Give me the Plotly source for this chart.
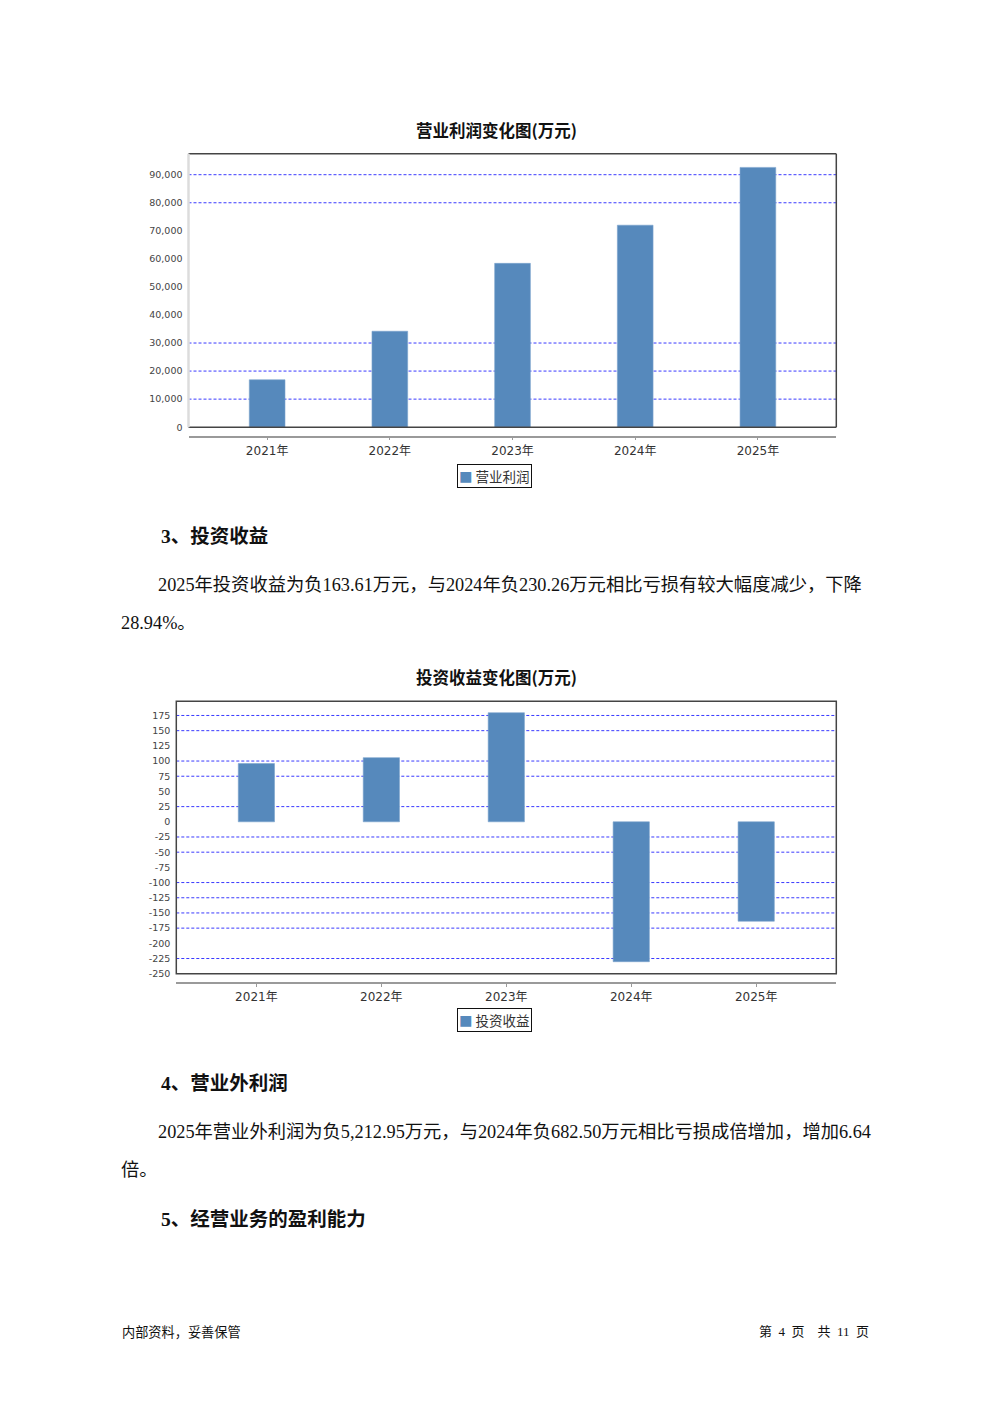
import plotly.graph_objects as go

# ---------------- data ----------------
years = ["2021年", "2022年", "2023年", "2024年", "2025年"]
op_profit = [16900, 34200, 58400, 72000, 92600]          # 营业利润 (万元)
inv_income = [95.8, 105.6, 179.5, -230.26, -163.61]      # 投资收益 (万元)

op_ticks = [0, 10000, 20000, 30000, 40000, 50000, 60000, 70000, 80000, 90000]
op_grid = [10000, 20000, 30000, 80000, 90000]
inv_ticks = [175, 150, 125, 100, 75, 50, 25, 0, -25, -50, -75, -100, -125, -150, -175, -200, -225, -250]
inv_grid = [175, 150, 100, 75, 25, -25, -50, -100, -125, -150, -175, -225, -250]

OFF = 8                      # default body margin of the html page
DY = 2                       # small vertical correction
W, H = 992 - 2 * OFF, 1403 - 2 * OFF
BAR = "#5689bc"
GRID = "#3a3aff"
CJK = "Noto Sans CJK SC"
BODY = "Liberation Serif, Noto Sans CJK SC"
AX = "DejaVu Sans, Noto Sans CJK SC"


def px(x):
    return (x - OFF) / W


def py(y):
    return 1 - (y + DY - OFF) / H


fig = go.Figure()
fig.add_trace(go.Bar(x=years, y=op_profit, name="营业利润", marker=dict(color=BAR, line=dict(color="#7aa3cc", width=0.6)),
                     width=0.291, xaxis="x", yaxis="y", showlegend=False))
fig.add_trace(go.Bar(x=years, y=inv_income, name="投资收益", marker=dict(color=BAR, line=dict(color="#7aa3cc", width=0.6)),
                     width=0.29, xaxis="x2", yaxis="y2", showlegend=False))

ytick_font = dict(family="DejaVu Sans", size=9.5, color="#444")
xtick_font = dict(family=AX, size=12, color="#333")

fig.update_layout(
    width=W, height=H, margin=dict(l=0, r=0, t=0, b=0),
    paper_bgcolor="white", plot_bgcolor="white",
    xaxis=dict(domain=[px(188.5), px(836.3)], range=[-0.641, 4.639], anchor="free", position=py(436.3),
               showline=True, linecolor="#9a9a9a", linewidth=1.5, ticks="outside", ticklen=3, tickcolor="#9a9a9a",
               tickfont=xtick_font, showgrid=False, zeroline=False),
    yaxis=dict(domain=[py(426.7), py(152.3)], range=[0, 97460], anchor="x", tickvals=op_ticks,
               ticktext=[f"{v:,}" for v in op_ticks], tickfont=ytick_font, showgrid=False, zeroline=False,
               showline=False, ticks="", ticklabelstandoff=5),
    xaxis2=dict(domain=[px(176.3), px(836.3)], range=[-0.641, 4.641], anchor="free", position=py(984.5),
                showline=True, linecolor="#9a9a9a", linewidth=1.5, ticks="outside", ticklen=3, tickcolor="#9a9a9a",
                tickfont=xtick_font, showgrid=False, zeroline=False),
    yaxis2=dict(domain=[py(975.2), py(701.7)], range=[-250, 198.5], anchor="x2", tickvals=inv_ticks,
                ticktext=[str(v) for v in inv_ticks], tickfont=ytick_font, showgrid=False, zeroline=False,
                showline=False, ticks="", ticklabelstandoff=5),
    showlegend=False,
)

shapes = []
for g in op_grid:
    shapes.append(dict(type="line", xref="x domain", yref="y", x0=0, x1=1, y0=g, y1=g, layer="below",
                       line=dict(color=GRID, width=1, dash="3px,2px")))
for g in inv_grid:
    shapes.append(dict(type="line", xref="x2 domain", yref="y2", x0=0, x1=1, y0=g, y1=g, layer="below",
                       line=dict(color=GRID, width=1, dash="3px,2px")))
# chart 1 frame: dark top/right/bottom, light left
for (x0, y0, x1, y1, c, w) in [(0, 1, 1, 1, "#444", 1.5), (1, 0, 1, 1, "#444", 1.5), (0, 0, 1, 0, "#444", 1.5),
                               (0, 0, 0, 1, "#dcdcdc", 2.5)]:
    shapes.append(dict(type="line", xref="x domain", yref="y domain", x0=x0, x1=x1, y0=y0, y1=y1,
                       line=dict(color=c, width=w)))
shapes.append(dict(type="rect", xref="x2 domain", yref="y2 domain", x0=0, x1=1, y0=0, y1=1,
                   line=dict(color="#444", width=1.5)))
fig.update_layout(shapes=shapes)

ann = []


def text(x, y, s, size, bold=False, family=BODY, anchor="left", color="#111", **kw):
    ann.append(dict(x=px(x), y=py(y), xref="paper", yref="paper", text=("<b>%s</b>" % s) if bold else s,
                    showarrow=False, xanchor=anchor, yanchor="middle",
                    font=dict(family=family, size=size, color=color), **kw))


text(496, 128, "营业利润变化图(万元)", 16.5, bold=True, family=CJK, anchor="center")
text(496, 677, "投资收益变化图(万元)", 16.5, bold=True, family=CJK, anchor="center")

# legends (boxed key + series name)
for yy, nm in [(475.5, "营业利润"), (1021.5, "投资收益")]:
    text(494.5, yy, f'<span style="color:{BAR}">■</span> {nm}', 13.5, family=CJK, anchor="center",
         color="#333", bordercolor="#111", borderwidth=1, borderpad=1, bgcolor="white")

text(159, 536, "3、投资收益", 19.5, bold=True)
text(156, 585, "2025年投资收益为负163.61万元，与2024年负230.26万元相比亏损有较大幅度减少，下降", 18.3)
text(119, 623, "28.94%。", 18.3)

text(159, 1085, "4、营业外利润", 19.5, bold=True)
text(156, 1134, "2025年营业外利润为负5,212.95万元，与2024年负682.50万元相比亏损成倍增加，增加6.64", 18.3)
text(119, 1172, "倍。", 18.3)

text(159, 1222, "5、经营业务的盈利能力", 19.5, bold=True)

NB = "\u00a0"
text(120, 1334, "内部资料，妥善保管", 13.2, family=CJK)
text(871, 1334, f"第{NB}{NB}4{NB}{NB}页{NB}{NB}{NB}{NB}共{NB}{NB}11{NB}{NB}页", 13, family=BODY, anchor="right")

fig.update_layout(annotations=ann)

fig.write_html("out.html")
